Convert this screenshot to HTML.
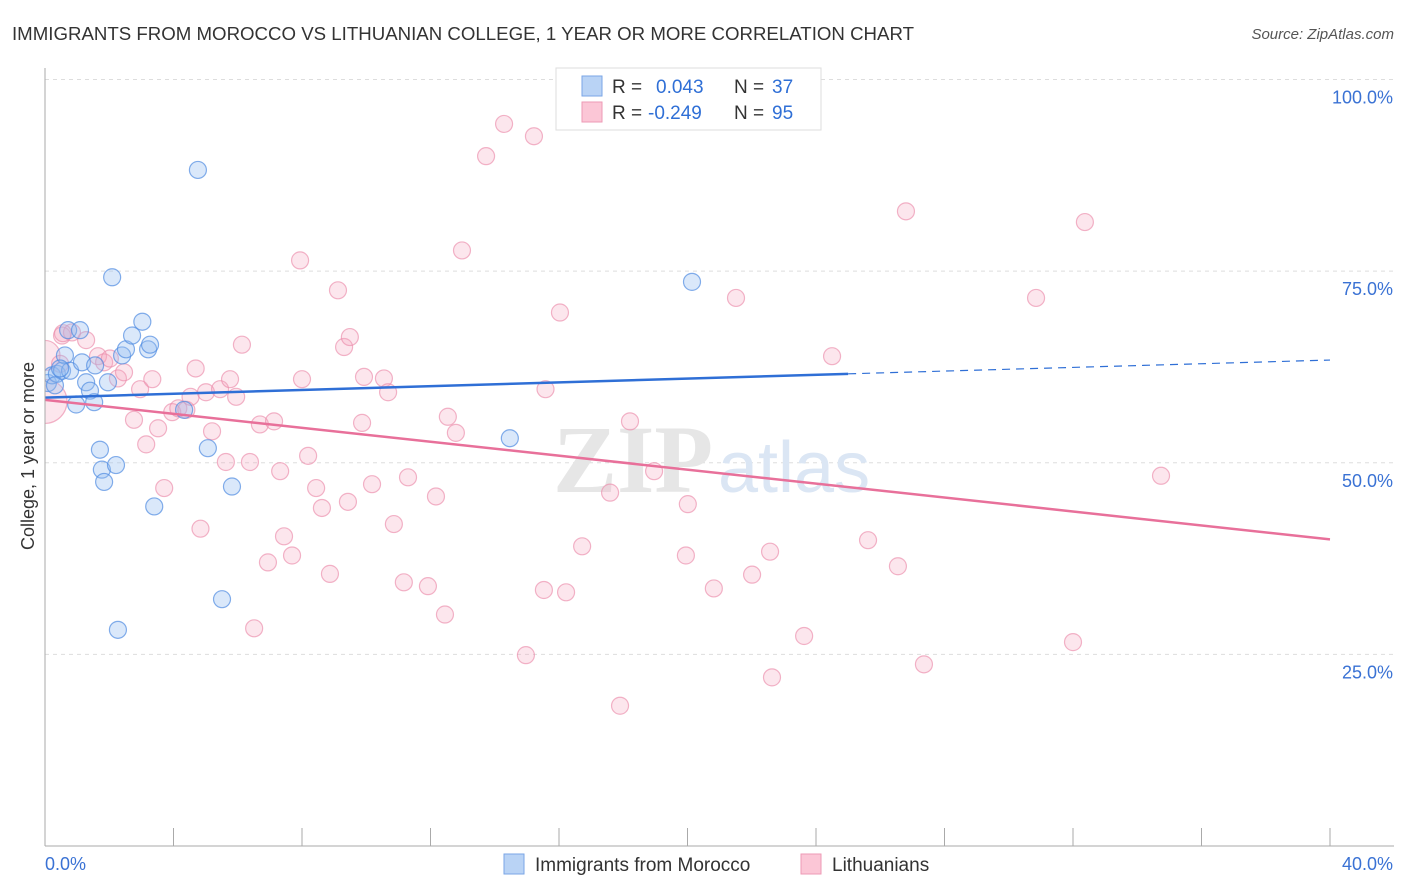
<!DOCTYPE html>
<html><head><meta charset="utf-8">
<style>
body{margin:0;background:#fff;font-family:"Liberation Sans",sans-serif;}
svg{display:block}
</style></head>
<body>
<svg id="chart" width="1406" height="892" xmlns="http://www.w3.org/2000/svg" font-family="Liberation Sans, sans-serif">
<text x="12" y="40" font-size="18" fill="#333" textLength="902" lengthAdjust="spacingAndGlyphs">IMMIGRANTS FROM MOROCCO VS LITHUANIAN COLLEGE, 1 YEAR OR MORE CORRELATION CHART</text>
<text x="1394" y="39" font-size="15" fill="#555" font-style="italic" text-anchor="end">Source: ZipAtlas.com</text>
<g id="grid"></g>
<g>
<text x="553" y="492" font-size="96" font-weight="bold" fill="#e6e6e6" font-family="Liberation Serif, serif">ZIP</text>
<text x="718" y="492" font-size="72" fill="#dbe6f4">atlas</text>
</g>
<g id="points"></g>
<g id="lines"></g>
<rect x="0" y="55" width="44.5" height="791" fill="#fff"/>
<line x1="45" x2="45" y1="68" y2="846" stroke="#aaa"/>
<text transform="translate(34,456) rotate(-90)" font-size="18" fill="#333" text-anchor="middle">College, 1 year or more</text>
<g>
<rect x="556" y="68" width="265" height="62" fill="#fff" stroke="#ddd"/>
<rect x="582" y="76" width="20" height="20" fill="#b9d3f5" stroke="#7aa6e6"/>
<rect x="582" y="102" width="20" height="20" fill="#fbc6d6" stroke="#ee9ab5"/>
<text x="612" y="93" font-size="19" fill="#333">R =</text>
<text x="656" y="93" font-size="19" fill="#2f6fd6">0.043</text>
<text x="734" y="93" font-size="19" fill="#333">N =</text>
<text x="772" y="93" font-size="19" fill="#2f6fd6">37</text>
<text x="612" y="119" font-size="19" fill="#333">R =</text>
<text x="648" y="119" font-size="19" fill="#2f6fd6">-0.249</text>
<text x="734" y="119" font-size="19" fill="#333">N =</text>
<text x="772" y="119" font-size="19" fill="#2f6fd6">95</text>
</g>
<g>
<rect x="504" y="854" width="20" height="20" fill="#b9d3f5" stroke="#7aa6e6"/>
<text x="535" y="871" font-size="19" fill="#333">Immigrants from Morocco</text>
<rect x="801" y="854" width="20" height="20" fill="#fbc6d6" stroke="#ee9ab5"/>
<text x="832" y="871" font-size="19" fill="#333">Lithuanians</text>
</g>
</svg>
<script>
const yTicks=[25,50,75,100];
const yTickLabels=["25.0%","50.0%","75.0%","100.0%"];
const xTicks=[0,4,8,12,16,20,24,28,32,36,40];
const xEndLabels=["0.0%","40.0%"];
const blueX=[0.09,0.22,0.37,0.53,0.62,0.72,0.78,1.09,0.97,1.15,1.28,1.40,1.53,1.71,1.77,1.84,1.96,2.21,2.27,2.40,2.52,2.71,3.03,3.21,3.27,3.40,4.33,4.76,5.07,5.51,5.82,2.09,14.47,20.14,1.56,0.47,0.31];
const blueY=[60.4,61.4,61.6,62.0,64.0,67.3,62.0,67.3,57.6,63.1,60.5,59.4,57.9,51.7,49.1,47.5,60.5,49.7,28.2,64.0,64.8,66.6,68.4,64.8,65.4,44.3,56.9,88.2,51.9,32.2,46.9,74.2,53.2,73.6,62.7,62.3,60.1];
const pinkX=[0.0,0.0,0.53,0.84,1.28,1.65,1.84,2.02,2.27,2.46,2.77,2.96,3.15,3.34,3.52,3.71,3.96,4.15,4.40,4.53,4.69,4.84,5.01,5.20,5.45,5.63,5.76,5.95,6.13,6.38,6.51,6.69,6.94,7.13,7.32,7.44,7.69,7.94,8.00,8.19,8.44,8.62,8.87,9.12,9.31,9.49,9.43,9.87,9.93,10.18,10.55,10.68,10.86,11.17,11.30,11.92,12.17,12.45,12.54,12.79,12.98,13.73,14.29,14.97,15.22,15.53,15.58,16.03,16.22,16.72,17.59,17.90,18.21,18.96,19.95,20.01,20.82,21.51,22.01,22.57,22.63,23.63,24.50,25.62,26.55,26.80,27.36,30.85,32.00,32.37,34.74,0.47,0.56];
const pinkY=[58.0,64.0,66.6,67.0,66.0,63.9,63.1,63.6,61.0,61.8,55.6,59.6,52.4,60.9,54.5,46.7,56.6,57.1,56.9,58.6,62.3,41.4,59.2,54.1,59.6,50.1,60.9,58.6,65.4,50.1,28.4,55.0,37.0,55.4,48.9,40.4,37.9,76.4,60.9,50.9,46.7,44.1,35.5,72.5,65.1,66.4,44.9,55.2,61.2,47.2,61.0,59.2,42.0,34.4,48.1,33.9,45.6,30.2,56.0,53.9,77.7,90.0,94.2,24.9,92.6,33.4,59.6,69.6,33.1,39.1,46.1,18.3,55.4,48.9,37.9,44.6,33.6,71.5,35.4,38.4,22.0,27.4,63.9,39.9,36.5,82.8,23.7,71.5,26.6,81.4,48.3,62.9,66.9];
const pinkR=[22,15];
const blueTrend=[[0,58.5],[25,61.6],[40,63.4]];
const pinkTrend=[[0,58.2],[40,40.0]];

const X0=45,X1=1330,Y0=846,Y100=79.5;
const xs=v=>X0+(v/40)*(X1-X0);
const ys=v=>Y0-(v/100)*(Y0-Y100);
const NS="http://www.w3.org/2000/svg";
function mk(tag,attrs,parent){const e=document.createElementNS(NS,tag);for(const k in attrs)e.setAttribute(k,attrs[k]);parent.appendChild(e);return e;}
const grid=document.getElementById('grid');
yTicks.forEach((t,i)=>{
  const l=mk('line',{x1:X0,x2:1394,y1:ys(t),y2:ys(t),stroke:'#ddd','stroke-dasharray':'4,4'},grid);
  
  
  const tx=mk('text',{x:1393,y:ys(t)+24,'font-size':18,fill:'#3a72d4','text-anchor':'end'},grid);
  tx.textContent=yTickLabels[i];
  
  
});
const bx=mk('line',{x1:X0,x2:1394,y1:Y0,y2:Y0,stroke:'#aaa'},grid);


xTicks.forEach(t=>{
  const l=mk('line',{x1:xs(t),x2:xs(t),y1:Y0,y2:Y0-18,stroke:'#aaa'},grid);
  
  
});
const xl0=mk('text',{x:45,y:870,'font-size':18,fill:'#3a72d4'},grid);xl0.textContent=xEndLabels[0];


const xl1=mk('text',{x:1393,y:870,'font-size':18,fill:'#3a72d4','text-anchor':'end'},grid);xl1.textContent=xEndLabels[1];



const pts=document.getElementById('points');
pinkX.forEach((v,i)=>{
  const c=mk('circle',{cx:xs(v),cy:ys(pinkY[i]),r:pinkR[i]||8.5,fill:'rgba(245,165,190,0.28)',stroke:'rgba(235,140,170,0.65)','stroke-width':1.2},pts);
  
  
});
blueX.forEach((v,i)=>{
  const c=mk('circle',{cx:xs(v),cy:ys(blueY[i]),r:8.5,fill:'rgba(150,190,240,0.35)',stroke:'rgba(80,140,225,0.7)','stroke-width':1.2},pts);
  
  
});
const ln=document.getElementById('lines');
const b1=mk('line',{x1:xs(blueTrend[0][0]),y1:ys(blueTrend[0][1]),x2:xs(blueTrend[1][0]),y2:ys(blueTrend[1][1]),stroke:'#2f6fd6','stroke-width':2.5},ln);


const b2=mk('line',{x1:xs(blueTrend[1][0]),y1:ys(blueTrend[1][1]),x2:xs(blueTrend[2][0]),y2:ys(blueTrend[2][1]),stroke:'#2f6fd6','stroke-width':1.2,'stroke-dasharray':'8,6'},ln);


const p1=mk('line',{x1:xs(pinkTrend[0][0]),y1:ys(pinkTrend[0][1]),x2:xs(pinkTrend[1][0]),y2:ys(pinkTrend[1][1]),stroke:'#e8709a','stroke-width':2.5},ln);


</script>
</body></html>
